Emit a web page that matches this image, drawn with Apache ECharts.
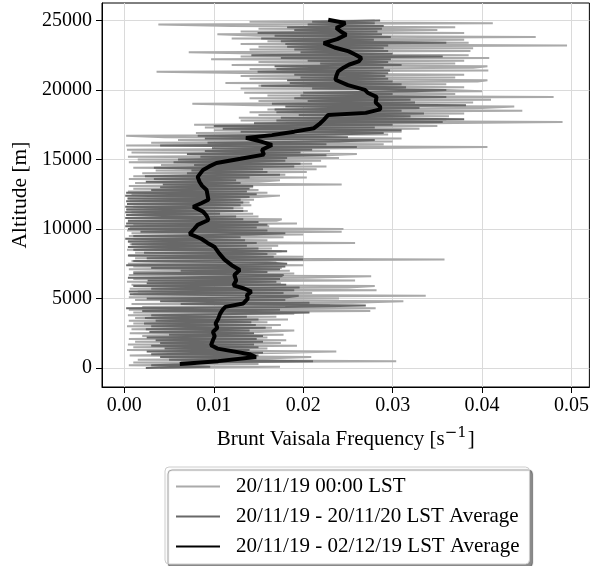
<!DOCTYPE html>
<html>
<head>
<meta charset="utf-8">
<script src="https://cdn.jsdelivr.net/npm/echarts@6/dist/echarts.min.js"></script>
<style>
  html, body { margin: 0; padding: 0; background: #fff; }
  #chart { width: 592px; height: 566px; }
</style>
</head>
<body>
<div id="chart"></div>
<script>
// Brunt–Väisälä frequency profiles (s^-1) against altitude (m)

// Vertical spacing of the two noisy profiles (m); sample i sits at i * profileStep
const profileStep = 100;

// Single sounding, 20/11/19 00:00 LST (0 m ... 25000 m)
const sounding0000 = [
  0.0040,0.0174,0.0005,0.0150,0.0010,0.0304,0.0015,0.0165,0.0209,0.0006,
  0.0008,0.0180,0.0237,0.0003,0.0160,0.0010,0.0193,0.0004,0.0175,0.0012,
  0.0181,0.0005,0.0160,0.0020,0.0178,0.0006,0.0150,0.0190,0.0008,0.0165,
  0.0003,0.0175,0.0010,0.0160,0.0005,0.0183,0.0012,0.0170,0.0004,0.0190,
  0.0010,0.0275,0.0005,0.0281,0.0020,0.0230,0.0008,0.0255,0.0312,0.0012,
  0.0240,0.0005,0.0337,0.0010,0.0210,0.0015,0.0282,0.0006,0.0250,0.0280,
  0.0008,0.0175,0.0003,0.0258,0.0010,0.0200,0.0276,0.0005,0.0190,0.0010,
  0.0185,0.0005,0.0176,0.0010,0.0200,0.0004,0.0170,0.0008,0.0358,0.0012,
  0.0200,0.0005,0.0170,0.0012,0.0176,0.0003,0.0165,0.0010,0.0172,0.0006,
  0.0258,0.0004,0.0160,0.0010,0.0178,0.0005,0.0200,0.0008,0.0243,0.0003,
  0.0245,0.0006,0.0162,0.0010,0.0193,0.0004,0.0170,0.0176,0.0005,0.0150,
  0.0004,0.0144,0.0008,0.0138,0.0003,0.0133,0.0010,0.0142,0.0005,0.0140,
  0.0006,0.0145,0.0003,0.0150,0.0174,0.0008,0.0160,0.0004,0.0150,0.0010,
  0.0144,0.0005,0.0243,0.0012,0.0150,0.0174,0.0005,0.0204,0.0010,0.0180,
  0.0020,0.0204,0.0035,0.0215,0.0010,0.0226,0.0041,0.0210,0.0005,0.0220,
  0.0015,0.0240,0.0004,0.0225,0.0260,0.0008,0.0230,0.0003,0.0250,0.0406,
  0.0002,0.0290,0.0030,0.0300,0.0060,0.0310,0.0045,0.0002,0.0295,0.0080,
  0.0310,0.0100,0.0330,0.0090,0.0350,0.0078,0.0340,0.0490,0.0130,0.0360,
  0.0128,0.0363,0.0150,0.0380,0.0140,0.0445,0.0160,0.0400,0.0436,0.0145,
  0.0076,0.0390,0.0150,0.0410,0.0140,0.0480,0.0160,0.0370,0.0134,0.0400,
  0.0361,0.0130,0.0380,0.0150,0.0360,0.0113,0.0395,0.0406,0.0140,0.0370,
  0.0130,0.0380,0.0150,0.0036,0.0407,0.0140,0.0390,0.0406,0.0120,0.0370,
  0.0150,0.0380,0.0097,0.0408,0.0130,0.0385,0.0160,0.0072,0.0387,0.0140,
  0.0390,0.0150,0.0495,0.0130,0.0385,0.0160,0.0380,0.0120,0.0460,0.0150,
  0.0104,0.0380,0.0130,0.0350,0.0150,0.0370,0.0120,0.0038,0.0412,0.0140,
  0.0280
];

// Average 20/11/19 - 20/11/20 (0 m ... 25000 m)
const averageYear = [
  0.0024,0.0096,0.0030,0.0080,0.0063,0.0211,0.0050,0.0148,0.0040,0.0150,
  0.0030,0.0155,0.0025,0.0140,0.0045,0.0150,0.0030,0.0145,0.0040,0.0155,
  0.0035,0.0148,0.0025,0.0155,0.0050,0.0145,0.0028,0.0140,0.0024,0.0158,
  0.0030,0.0147,0.0022,0.0142,0.0035,0.0150,0.0023,0.0137,0.0030,0.0140,
  0.0207,0.0020,0.0174,0.0002,0.0180,0.0270,0.0063,0.0207,0.0040,0.0180,
  0.0025,0.0182,0.0195,0.0006,0.0178,0.0005,0.0190,0.0030,0.0196,0.0010,
  0.0181,0.0025,0.0170,0.0026,0.0174,0.0004,0.0175,0.0178,0.0010,0.0160,
  0.0063,0.0174,0.0030,0.0180,0.0002,0.0182,0.0160,0.0010,0.0200,0.0025,
  0.0167,0.0004,0.0160,0.0022,0.0182,0.0010,0.0150,0.0004,0.0137,0.0008,
  0.0148,0.0004,0.0135,0.0001,0.0130,0.0010,0.0140,0.0180,0.0018,0.0160,
  0.0004,0.0148,0.0001,0.0160,0.0002,0.0150,0.0004,0.0133,0.0001,0.0125,
  0.0002,0.0107,0.0001,0.0133,0.0002,0.0122,0.0001,0.0130,0.0003,0.0133,
  0.0002,0.0130,0.0004,0.0140,0.0001,0.0148,0.0002,0.0137,0.0030,0.0140,
  0.0040,0.0144,0.0043,0.0130,0.0024,0.0125,0.0033,0.0140,0.0023,0.0174,
  0.0070,0.0160,0.0075,0.0155,0.0033,0.0190,0.0078,0.0197,0.0055,0.0180,
  0.0060,0.0182,0.0085,0.0226,0.0070,0.0197,0.0090,0.0210,0.0098,0.0260,
  0.0040,0.0226,0.0093,0.0240,0.0280,0.0090,0.0250,0.0082,0.0235,0.0290,
  0.0130,0.0310,0.0110,0.0280,0.0100,0.0300,0.0145,0.0356,0.0170,0.0380,
  0.0175,0.0320,0.0195,0.0335,0.0170,0.0310,0.0168,0.0330,0.0180,0.0382,
  0.0165,0.0325,0.0205,0.0320,0.0190,0.0360,0.0197,0.0300,0.0200,0.0325,
  0.0360,0.0210,0.0315,0.0153,0.0310,0.0185,0.0300,0.0182,0.0295,0.0197,
  0.0292,0.0190,0.0295,0.0149,0.0297,0.0170,0.0290,0.0168,0.0310,0.0219,
  0.0295,0.0205,0.0298,0.0175,0.0356,0.0142,0.0300,0.0197,0.0295,0.0190,
  0.0290,0.0182,0.0295,0.0180,0.0360,0.0175,0.0279,0.0153,0.0298,0.0168,
  0.0288,0.0149,0.0283,0.0190,0.0288,0.0182,0.0290,0.0205,0.0280,0.0210,
  0.0286
];

// Average 20/11/19 - 02/12/19: altitudes (m) and frequencies (s^-1)
const averageShortAlt = [
  300,500,800,1000,1200,1400,1650,2000,2300,2600,
  2900,3200,3550,3900,4200,4400,4650,5000,5250,5500,
  5720,5950,6300,6700,7050,7400,7800,8250,8700,9000,
  9300,9650,10000,10300,10650,10950,11250,11600,11850,12100,
  12450,12800,13100,13400,13750,14250,14500,14750,15050,15350,
  15700,16050,16300,16550,16750,17000,17250,17600,17850,18200,
  18350,18600,18800,19100,19500,19800,20000,20350,20730,21000,
  21330,21600,21810,22050,22290,22550,22770,23050,23370,23650,
  23970,24200,24450,24650,24810,25050
];
const averageShort = [
  0.0062,0.0105,0.0147,0.0140,0.0122,0.0104,0.0097,0.0099,0.0101,0.0099,
  0.0104,0.0102,0.0105,0.0107,0.0110,0.0113,0.0133,0.0138,0.0137,0.0142,
  0.0134,0.0122,0.0125,0.0123,0.0129,0.0120,0.0112,0.0106,0.0101,0.0093,
  0.0086,0.0073,0.0078,0.0082,0.0094,0.0092,0.0088,0.0077,0.0086,0.0094,
  0.0093,0.0092,0.0087,0.0084,0.0082,0.0088,0.0095,0.0103,0.0130,0.0156,
  0.0154,0.0165,0.0152,0.0136,0.0165,0.0190,0.0212,0.0219,0.0223,0.0228,
  0.0270,0.0286,0.0286,0.0281,0.0282,0.0272,0.0269,0.0250,0.0236,0.0237,
  0.0239,0.0245,0.0251,0.0262,0.0265,0.0258,0.0251,0.0235,0.0223,0.0238,
  0.0248,0.0242,0.0237,0.0243,0.0247,0.0228
];

// Axis ticks
const freqTicks = [0, 0.01, 0.02, 0.03, 0.04, 0.05];
const altTicks = [0, 5000, 10000, 15000, 20000, 25000];

const seriesNames = [
  '20/11/19 00:00 LST',
  '20/11/19 - 20/11/20 LST Average',
  '20/11/19 - 02/12/19 LST Average'
];

const FONT = 'Liberation Serif';

const onGrid = (vals) => vals.map((v, i) => [v, i * profileStep]);
const paired = (vals, alts) => vals.map((v, i) => [v, alts[i]]);

const chart = echarts.init(document.getElementById('chart'), null, { renderer: 'canvas' });

chart.setOption({
  animation: false,
  textStyle: { fontFamily: FONT },
  grid: {
    left: 102, top: 3, width: 490, height: 384,
    show: true, borderColor: '#000', borderWidth: 1, backgroundColor: 'transparent'
  },
  xAxis: {
    type: 'value',
    min: -0.0025, max: 0.052,
    name: '{t|Brunt Vaisala Frequency [s}{s|\u22121}{t|]}',
    nameLocation: 'middle',
    nameGap: 39,
    nameTextStyle: {
      rich: {
        t: { fontFamily: FONT, fontSize: 21, color: '#000', lineHeight: 26 },
        s: { fontFamily: 'DejaVu Serif', fontSize: 15, color: '#000', verticalAlign: 'top', lineHeight: 15, padding: [0, 1, 0, 0] }
      }
    },
    axisLine: { show: true, onZero: false, lineStyle: { color: '#000', width: 1 } },
    axisTick: { show: true, length: 6, customValues: freqTicks, lineStyle: { color: '#000', width: 1 } },
    axisLabel: {
      customValues: freqTicks,
      formatter: (v) => v.toFixed(2),
      color: '#000', fontFamily: FONT, fontSize: 20, margin: 9
    },
    splitLine: { show: true, lineStyle: { color: '#dadada', width: 1 } }
  },
  yAxis: {
    type: 'value',
    min: -1360, max: 26250,
    name: 'Altitude [m]',
    nameLocation: 'middle',
    nameRotate: 90,
    nameGap: 68,
    nameTextStyle: { fontFamily: FONT, fontSize: 21.5, color: '#000' },
    axisLine: { show: true, onZero: false, lineStyle: { color: '#000', width: 1 } },
    axisTick: { show: true, length: 6, customValues: altTicks, lineStyle: { color: '#000', width: 1 } },
    axisLabel: {
      customValues: altTicks,
      formatter: (v) => String(v),
      color: '#000', fontFamily: FONT, fontSize: 20, margin: 10
    },
    splitLine: { show: true, lineStyle: { color: '#dadada', width: 1 } }
  },
  legend: {
    orient: 'vertical',
    left: 165, top: 467, height: 95,
    itemWidth: 44, itemHeight: 20, itemGap: 9,
    padding: [9, 10, 7, 10],
    backgroundColor: '#fff',
    borderColor: '#cccccc', borderWidth: 1, borderRadius: 4,
    shadowColor: 'rgba(0,0,0,0.45)', shadowOffsetX: 3, shadowOffsetY: 3, shadowBlur: 1,
    itemStyle: { opacity: 0 },
    textStyle: { fontFamily: FONT, fontSize: 21, lineHeight: 20, color: '#000', padding: [0, 0, 0, 11] },
    data: seriesNames
  },
  series: [
    {
      type: 'line', name: seriesNames[0],
      data: onGrid(sounding0000),
      symbol: 'none', z: 1,
      lineStyle: { color: '#aaaaaa', width: 2 },
      itemStyle: { color: '#aaaaaa' }
    },
    {
      type: 'line', name: seriesNames[1],
      data: onGrid(averageYear),
      symbol: 'none', z: 2,
      lineStyle: { color: '#686868', width: 2 },
      itemStyle: { color: '#686868' }
    },
    {
      type: 'line', name: seriesNames[2],
      data: paired(averageShort, averageShortAlt),
      symbol: 'none', z: 3,
      lineStyle: { color: '#000', width: 4 },
      itemStyle: { color: '#000' }
    }
  ]
});
</script>
</body>
</html>
